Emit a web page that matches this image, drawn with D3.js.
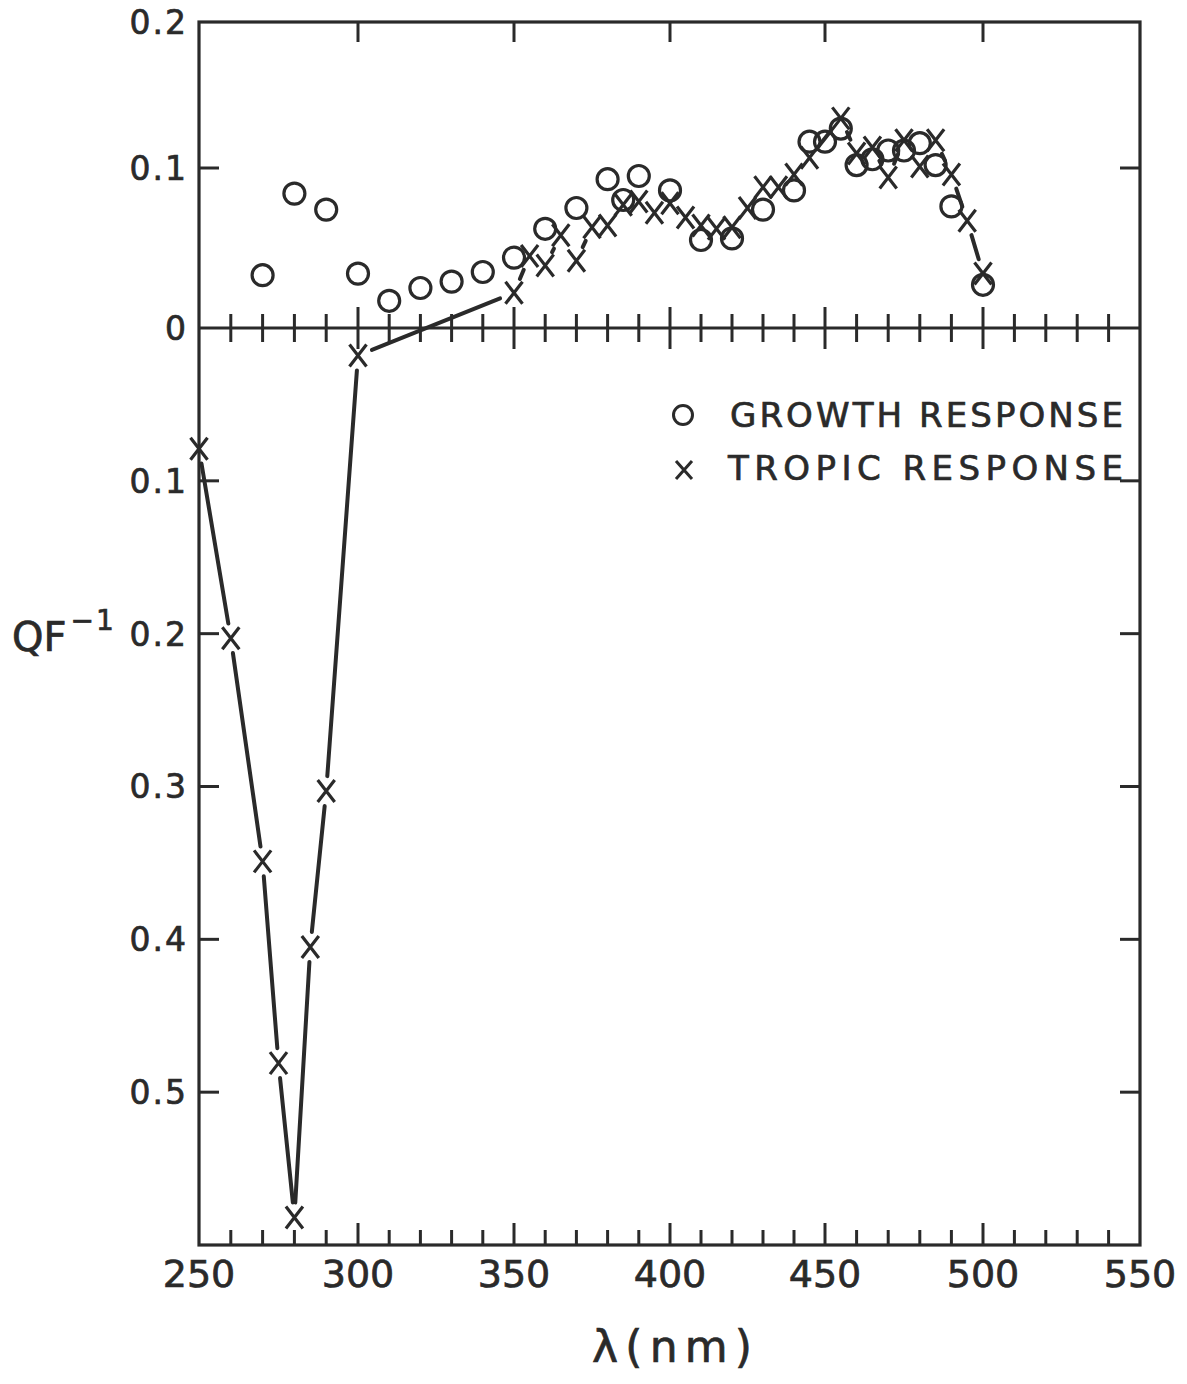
<!DOCTYPE html>
<html>
<head>
<meta charset="utf-8">
<script src="https://cdn.jsdelivr.net/npm/d3@7"></script>
<style>
  body { margin: 0; background: #fff; }
  svg { display: block; }
  text { font-family: "DejaVu Sans", sans-serif; fill: #2a2a2a; stroke: #2a2a2a; stroke-width: 0.7px; }
</style>
</head>
<body>
<svg></svg>
<script>
// growth response (circles)
const growthNm = [270, 280, 290, 300, 310, 320, 330, 340, 350, 360, 370, 380, 385, 390, 400,
  410, 420, 430, 440, 445, 450, 455, 460, 465, 470, 475, 480, 485, 490, 500];
const growthQF = [0.033, 0.084, 0.074, 0.034, 0.017, 0.025, 0.029, 0.035, 0.044, 0.062, 0.075, 0.093, 0.080, 0.095, 0.086,
  0.055, 0.056, 0.074, 0.086, 0.118, 0.118, 0.127, 0.102, 0.106, 0.112, 0.112, 0.117, 0.102, 0.076, 0.027];

// tropic response (x), joined in order of wavelength
const tropicNm = [250, 260, 270, 275, 280, 285, 290, 300, 350, 355, 360, 365, 370, 375, 380, 385, 390, 395, 400,
  405, 410, 415, 420, 425, 430, 435, 440, 445, 455, 460, 465, 470, 475, 480, 485, 490, 495, 500];
const tropicQF = [-0.079, -0.203, -0.349, -0.481, -0.582, -0.405, -0.303, -0.018, 0.022, 0.045, 0.039, 0.058, 0.042, 0.063, 0.064, 0.077, 0.079, 0.072, 0.078,
  0.069, 0.064, 0.062, 0.063, 0.075, 0.088, 0.088, 0.096, 0.107, 0.134, 0.110, 0.114, 0.094, 0.119, 0.101, 0.119, 0.096, 0.067, 0.034];

const xTicks = [250, 300, 350, 400, 450, 500, 550];
const xTickLabels = ["250", "300", "350", "400", "450", "500", "550"];
const yTicks = [0.2, 0.1, 0, -0.1, -0.2, -0.3, -0.4, -0.5];
const yTickLabels = ["0.2", "0.1", "0", "0.1", "0.2", "0.3", "0.4", "0.5"];

const width = 1187, height = 1384;
const ink = "#2a2a2a";

const svg = d3.select("svg")
  .attr("width", width)
  .attr("height", height);

// scales follow the (slightly uneven) scanned axes
const x = d3.scaleLinear()
  .domain(xTicks)
  .range([199, 358, 514, 670, 825, 983, 1140]);

const y = d3.scaleLinear()
  .domain([0.2, 0.1, 0, -0.6])
  .range([22, 168, 328, 1245]);

const x0 = x(250), x1 = x(550), yTop = y(0.2), yBot = y(-0.6), yZero = y(0);

// frame
svg.append("rect")
  .attr("x", x0).attr("y", yTop)
  .attr("width", x1 - x0).attr("height", yBot - yTop)
  .attr("fill", "none").attr("stroke", ink).attr("stroke-width", 3.2);

// zero line with crossing ticks
svg.append("line")
  .attr("x1", x0).attr("x2", x1).attr("y1", yZero).attr("y2", yZero)
  .attr("stroke", ink).attr("stroke-width", 3.2);

const minor = d3.range(260, 550, 10);

svg.append("g").selectAll("line")
  .data(minor)
  .join("line")
  .attr("x1", d => x(d)).attr("x2", d => x(d))
  .attr("y1", d => yZero - (d % 50 === 0 ? 21 : 14))
  .attr("y2", d => yZero + (d % 50 === 0 ? 21 : 14))
  .attr("stroke", ink).attr("stroke-width", 3);

// bottom ticks (inward)
svg.append("g").selectAll("line")
  .data(minor)
  .join("line")
  .attr("x1", d => x(d)).attr("x2", d => x(d))
  .attr("y1", yBot)
  .attr("y2", d => yBot - (d % 50 === 0 ? 22 : 15))
  .attr("stroke", ink).attr("stroke-width", 3);

// top ticks, major only
svg.append("g").selectAll("line")
  .data(xTicks.slice(1, -1))
  .join("line")
  .attr("x1", d => x(d)).attr("x2", d => x(d))
  .attr("y1", yTop).attr("y2", yTop + 20)
  .attr("stroke", ink).attr("stroke-width", 3);

// side ticks
const sideTicks = yTicks.filter(d => d !== 0.2 && d !== 0);
svg.append("g").selectAll("line")
  .data(sideTicks)
  .join("line")
  .attr("x1", x0).attr("x2", x0 + 20)
  .attr("y1", d => y(d)).attr("y2", d => y(d))
  .attr("stroke", ink).attr("stroke-width", 3);

svg.append("g").selectAll("line")
  .data(sideTicks)
  .join("line")
  .attr("x1", x1).attr("x2", x1 - 20)
  .attr("y1", d => y(d)).attr("y2", d => y(d))
  .attr("stroke", ink).attr("stroke-width", 3);

// tick labels
svg.append("g").selectAll("text")
  .data(xTicks)
  .join("text")
  .attr("x", d => x(d))
  .attr("y", 1287)
  .attr("text-anchor", "middle")
  .attr("font-size", 38)
  .text((d, i) => xTickLabels[i]);

svg.append("g").selectAll("text")
  .data(yTicks)
  .join("text")
  .attr("x", 188)
  .attr("y", d => y(d))
  .attr("dy", "0.36em")
  .attr("text-anchor", "end")
  .attr("font-size", 33)
  .attr("letter-spacing", 2)
  .text((d, i) => yTickLabels[i]);

// axis titles
const yTitle = svg.append("text")
  .attr("x", 12).attr("y", 651)
  .attr("font-size", 40);
yTitle.append("tspan").text("QF");
yTitle.append("tspan").attr("dx", 4).attr("dy", -21).attr("font-size", 28).text("\u2212");
yTitle.append("tspan").attr("dx", 2).attr("font-size", 28).text("1");

svg.append("text")
  .attr("x", 672).attr("y", 1362)
  .attr("text-anchor", "middle")
  .attr("font-size", 44)
  .attr("textLength", 160)
  .attr("lengthAdjust", "spacing")
  .text("\u03bb(nm)");

// connecting line for the tropic response, broken around each marker
const pts = tropicNm.map((d, i) => [x(d), y(tropicQF[i])]);
const gap = 15;
const segs = d3.pairs(pts)
  .map(([a, b]) => {
    const dx = b[0] - a[0], dy = b[1] - a[1];
    const len = Math.hypot(dx, dy);
    return { a, b, ux: dx / len, uy: dy / len, len };
  })
  .filter(s => s.len > 2 * gap + 3);

svg.append("g").selectAll("line")
  .data(segs)
  .join("line")
  .attr("x1", s => s.a[0] + s.ux * gap).attr("y1", s => s.a[1] + s.uy * gap)
  .attr("x2", s => s.b[0] - s.ux * gap).attr("y2", s => s.b[1] - s.uy * gap)
  .attr("stroke", ink).attr("stroke-width", 4).attr("stroke-linecap", "round");

// markers
const xMark = "M-8.5,-11L8.5,11M8.5,-11L-8.5,11";

svg.append("g").selectAll("circle")
  .data(growthNm)
  .join("circle")
  .attr("cx", d => x(d))
  .attr("cy", (d, i) => y(growthQF[i]))
  .attr("r", 10.5)
  .attr("fill", "none").attr("stroke", ink).attr("stroke-width", 3.2);

svg.append("g").selectAll("path")
  .data(tropicNm)
  .join("path")
  .attr("transform", (d, i) => `translate(${x(d)},${y(tropicQF[i])})`)
  .attr("d", xMark)
  .attr("fill", "none").attr("stroke", ink).attr("stroke-width", 3.2);

// legend
const legend = svg.append("g");
legend.append("circle")
  .attr("cx", 683).attr("cy", 415).attr("r", 9.5)
  .attr("fill", "none").attr("stroke", ink).attr("stroke-width", 3);
legend.append("path")
  .attr("transform", "translate(684,470)")
  .attr("d", "M-8,-9L8,9M8,-9L-8,9")
  .attr("fill", "none").attr("stroke", ink).attr("stroke-width", 3);
legend.append("text")
  .attr("x", 730).attr("y", 427)
  .attr("font-size", 34)
  .attr("textLength", 393).attr("lengthAdjust", "spacing")
  .text("GROWTH RESPONSE");
legend.append("text")
  .attr("x", 728).attr("y", 480)
  .attr("font-size", 34)
  .attr("textLength", 395).attr("lengthAdjust", "spacing")
  .text("TROPIC RESPONSE");
</script>
</body>
</html>
